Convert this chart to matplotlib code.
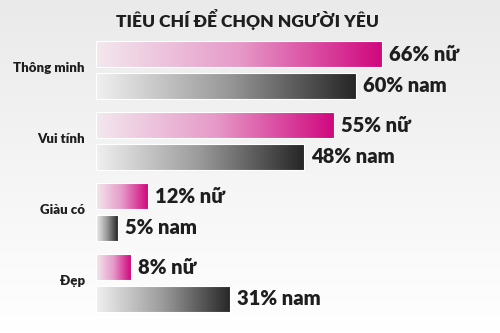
import matplotlib
matplotlib.use('Agg')
import matplotlib.pyplot as plt
import numpy as np
from matplotlib.colors import LinearSegmentedColormap

plt.rcParams['font.family'] = ['Lato', 'DejaVu Sans']

title = 'TIÊU CHÍ ĐỂ CHỌN NGƯỜI YÊU'
categories = ['Thông minh', 'Vui tính', 'Giàu có', 'Đẹp']
nu_values = [66, 55, 12, 8]
nam_values = [60, 48, 5, 31]
nu_suffix = 'nữ'
nam_suffix = 'nam'

pink_cmap = LinearSegmentedColormap.from_list('pink', ['#f3e8ee', '#e69ac8', '#d0077e'])
gray_cmap = LinearSegmentedColormap.from_list('gray', ['#f0f0f0', '#9a9a9a', '#262626'])
text_color = '#1e1e1e'


def gradient_bars(ax, bars, cmap):
    grad = np.linspace(0, 1, 256).reshape(1, -1)
    for bar in bars:
        x0, y0 = bar.get_x(), bar.get_y()
        w, h = bar.get_width(), bar.get_height()
        im = ax.imshow(grad, cmap=cmap, aspect='auto', interpolation='bicubic',
                       extent=(x0, x0 + w, y0 + h, y0), zorder=2)
        im.set_clip_path(bar)


fig = plt.figure(figsize=(5, 3.33), dpi=100)

# background: light gray at the top fading to white
bg = fig.add_axes([0, 0, 1, 1], zorder=0)
bg.imshow(np.linspace(0, 1, 256).reshape(-1, 1),
          cmap=LinearSegmentedColormap.from_list('bg', ['#eaeaea', '#ffffff']),
          aspect='auto', extent=(0, 1, 0, 1))
bg.set_axis_off()

ax = fig.add_axes([96 / 500, 0, 404 / 500, 1], zorder=1)
ax.patch.set_alpha(0)

y = np.arange(len(categories))
off = 0.225
h = 0.37

nu_bars = ax.barh(y - off, nu_values, height=h, color='none', edgecolor='white', linewidth=0.8, zorder=3)
nam_bars = ax.barh(y + off, nam_values, height=h, color='none', edgecolor='white', linewidth=0.8, zorder=3)
gradient_bars(ax, nu_bars, pink_cmap)
gradient_bars(ax, nam_bars, gray_cmap)

for yy, v in zip(y - off, nu_values):
    ax.annotate(f'{v}% {nu_suffix}', (v, yy), xytext=(5, 0), textcoords='offset points',
                va='center', ha='left', fontsize=14.5, fontweight='heavy', color=text_color)
for yy, v in zip(y + off, nam_values):
    ax.annotate(f'{v}% {nam_suffix}', (v, yy), xytext=(5, 0), textcoords='offset points',
                va='center', ha='left', fontsize=14.5, fontweight='heavy', color=text_color)

ax.set_xlim(0, 404 / 4.33)
ax.set_ylim((333 - 70) / 71, -70 / 71)
ax.set_yticks(y - 0.04)
ax.set_yticklabels(categories, fontsize=9.5, fontweight='heavy', color=text_color)
ax.tick_params(axis='y', length=0, pad=8)
ax.set_xticks([])
for s in ax.spines.values():
    s.set_visible(False)

fig.text(0.494, 1 - 19 / 333, title, ha='center', va='center', fontsize=12.5,
         fontweight='heavy', color=text_color)

fig.savefig('out.png', dpi=100)
